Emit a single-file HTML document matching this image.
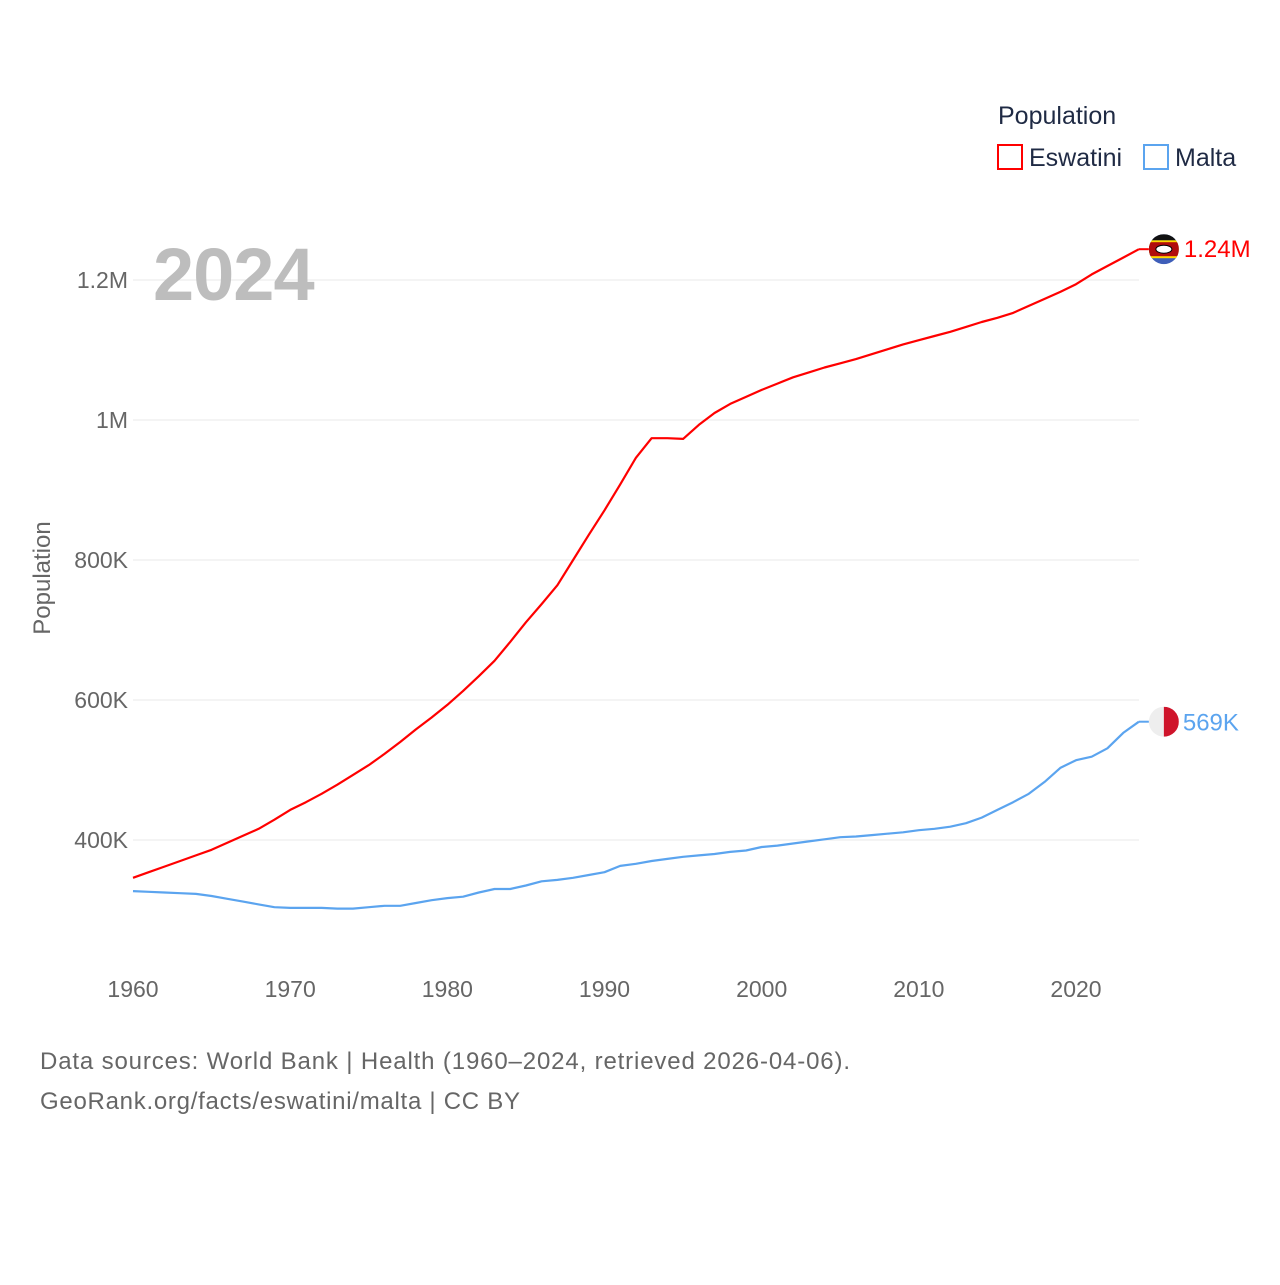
<!DOCTYPE html>
<html><head><meta charset="utf-8"><style>
body{margin:0;background:#fff;width:1280px;height:1280px;overflow:hidden;font-family:"Liberation Sans",sans-serif}
svg text{font-family:"Liberation Sans",sans-serif}
</style></head><body>
<svg id="chart" width="1280" height="1280">
<g id="grid"></g><g id="axes"></g><g id="lines"></g>
<text x="153" y="300" font-size="74" font-weight="bold" fill="#bdbdbd" letter-spacing="-1">2024</text>
<text transform="translate(50,578) rotate(-90)" text-anchor="middle" font-size="24" fill="#666">Population</text>
<text x="998" y="124" font-size="25" fill="#1f2a44">Population</text>
<g><rect x="998" y="145" width="24" height="24" fill="none" stroke="#f00" stroke-width="2"/><text x="1029" y="166" font-size="25" fill="#1f2a44">Eswatini</text></g>
<g><rect x="1144" y="145" width="24" height="24" fill="none" stroke="#5ba4ef" stroke-width="2"/><text x="1175" y="166" font-size="25" fill="#1f2a44">Malta</text></g>
<text x="40" y="1069" font-size="24" fill="#666" textLength="810">Data sources: World Bank | Health (1960–2024, retrieved 2026-04-06).</text>
<text x="40" y="1109" font-size="24" fill="#666" textLength="480">GeoRank.org/facts/eswatini/malta | CC BY</text>
</svg>
<script>
const years=[];for(let y=1960;y<=2024;y++)years.push(y);
const eswatini=[346,354,362,370,378,386,396,406,416,429,443,454,466,479,493,507,523,540,558,575,593,613,634,656,683,711,737,764,800,836,871,908,946,974,974,973,993,1010,1023,1033,1043,1052,1061,1068,1075,1081,1087,1094,1101,1108,1114,1120,1126,1133,1140,1146,1153,1163,1173,1183,1194,1208,1220,1232,1244];
const malta=[327,326,325,324,323,320,316,312,308,304,303,303,303,302,302,304,306,306,310,314,317,319,325,330,330,335,341,343,346,350,354,363,366,370,373,376,378,380,383,385,390,392,395,398,401,404,405,407,409,411,414,416,419,424,432,443,454,466,483,503,514,519,531,553,569];
const yTicks=[400000,600000,800000,1000000,1200000];
const yTickLabels=["400K","600K","800K","1M","1.2M"];
const xTicks=[1960,1970,1980,1990,2000,2010,2020];
const NS="http://www.w3.org/2000/svg";
const X=y=>133+(y-1960)*(1076-133)/60;
const Y=v=>840-(v-400000)*0.0007;
function mk(tag,attrs,parent,text){const e=document.createElementNS(NS,tag);for(const k in attrs)e.setAttribute(k,attrs[k]);if(text!=null)e.textContent=text;document.getElementById(parent).appendChild(e);return e;}
yTicks.forEach((t,i)=>{
 const l=mk('line',{x1:133,x2:1139,y1:Y(t),y2:Y(t),stroke:'#e8e8e8','stroke-width':1},'grid');
 
 
 const tx=mk('text',{x:128,y:Y(t)+8,'text-anchor':'end','font-size':23,fill:'#666'},'axes',yTickLabels[i]);
 
 
});
xTicks.forEach(t=>{
 const tx=mk('text',{x:X(t),y:997,'text-anchor':'middle','font-size':23,fill:'#666'},'axes',t);
 
 
});
function line(vals,color,name){
 const d=vals.map((v,i)=>(i?'L':'M')+X(years[i]).toFixed(1)+','+Y(v*1000).toFixed(1)).join('');
 const p=mk('path',{d:d,fill:'none',stroke:color,'stroke-width':2.2,'stroke-linejoin':'round'},'lines');
 
 
}
line(eswatini,'#f00','eswatini-line');
line(malta,'#5ba4ef','malta-line');
const lastE=eswatini[eswatini.length-1],lastM=malta[malta.length-1];
const ex=X(2024),ey=Y(lastE*1000),my=Y(lastM*1000);
mk('line',{x1:ex,x2:ex+10,y1:ey,y2:ey,stroke:'#f00','stroke-width':2},'lines');
mk('line',{x1:ex,x2:ex+10,y1:my,y2:my,stroke:'#5ba4ef','stroke-width':2},'lines');
const fe=mk('g',{},'lines');
const cE=ex+25;
fe.innerHTML=`<clipPath id="ce"><circle cx="${cE}" cy="${ey}" r="15"/></clipPath><g clip-path="url(#ce)"><rect x="${cE-15}" y="${ey-15}" width="30" height="30" fill="#3e5eb9"/><rect x="${cE-15}" y="${ey-9}" width="30" height="18" fill="#ffd900"/><rect x="${cE-15}" y="${ey-7}" width="30" height="14" fill="#b10c0c"/><rect x="${cE-15}" y="${ey-15}" width="30" height="6" fill="#111"/><ellipse cx="${cE}" cy="${ey}" rx="8" ry="4" fill="#fff" stroke="#000"/></g>`;
const fm=mk('g',{},'lines');
fm.innerHTML=`<clipPath id="cm"><circle cx="${cE}" cy="${my}" r="15"/></clipPath><g clip-path="url(#cm)"><rect x="${cE-15}" y="${my-15}" width="15" height="30" fill="#eee"/><rect x="${cE}" y="${my-15}" width="15" height="30" fill="#cf142b"/></g>`;
const le=mk('text',{x:ex+45,y:ey+8,'font-size':24,fill:'#f00'},'lines',(lastE/1000).toFixed(2)+'M');


const lm=mk('text',{x:ex+44,y:my+9,'font-size':24,fill:'#5ba4ef'},'lines',Math.round(lastM)+'K');


</script>
</body></html>
